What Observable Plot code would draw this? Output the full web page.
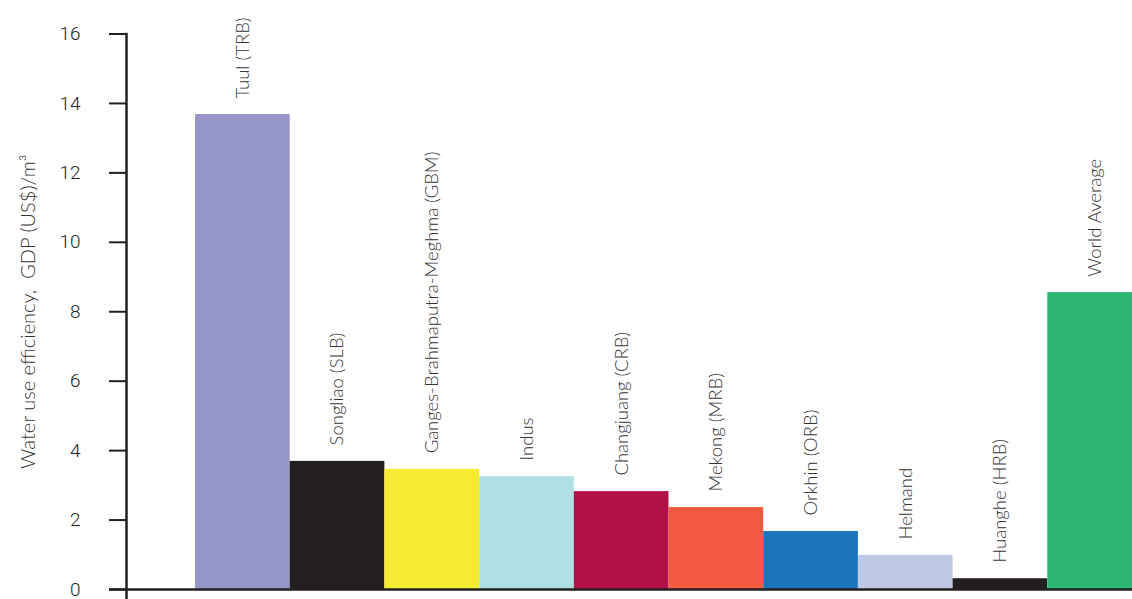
<!DOCTYPE html>
<html>
<head>
<meta charset="utf-8">
<script src="https://cdn.jsdelivr.net/npm/d3@7"></script>
<script src="https://cdn.jsdelivr.net/npm/@observablehq/plot@0.6"></script>
<style>
  html, body { margin: 0; padding: 0; background: #fff; overflow: hidden; }
  #chart svg { max-width: none !important; }
</style>
</head>
<body>
<div id="chart"></div>
<script>
const basins = ["Tuul (TRB)", "Songliao (SLB)", "Ganges-Brahmaputra-Meghma (GBM)", "Indus", "Changjuang (CRB)", "Mekong (MRB)", "Orkhin (ORB)", "Helmand", "Huanghe (HRB)", "World Average"];
const efficiency = [13.68, 3.69, 3.46, 3.25, 2.82, 2.36, 1.67, 0.98, 0.31, 8.55];
const colors = ["#9796c9", "#231f20", "#f7eb31", "#b0e0e4", "#b21048", "#f15a40", "#1c75bc", "#bfc8e6", "#231f20", "#2cb673"];
const yTicks = [0, 2, 4, 6, 8, 10, 12, 14, 16];

const data = basins.map((b, i) => ({basin: b, value: efficiency[i], color: colors[i]}));

const plot = Plot.plot({
  width: 1142,
  height: 599,
  marginLeft: 126,
  marginRight: 0,
  marginTop: 33.5,
  marginBottom: 10,
  style: {background: "#fff", color: "#231f20", maxWidth: "none"},
  x: {domain: basins, range: [195, 1142], padding: 0, round: false, axis: null},
  y: {domain: [0, 16], ticks: yTicks},
  marks: [
    Plot.barY(data, {x: "basin", y: "value", fill: "color"}),
    Plot.text(data, {
      x: "basin", y: "value", text: "basin", rotate: -90,
      textAnchor: "start", lineAnchor: "middle", dy: -16,
      fontFamily: "Lato", fontWeight: 300, fontSize: 18.5, fill: "#333"
    }),
    Plot.axisY({
      ticks: yTicks, tickSize: 17, tickPadding: 29,
      fontFamily: "Roboto", fontWeight: 300,
      fontSize: 19, stroke: "#231f20", strokeWidth: 2, fill: "#231f20",
      label: "Water use efficiency,  GDP (US$)/m³",
      labelAnchor: "center", labelArrow: "none", labelOffset: 106
    }),
    Plot.frame({anchor: "left", stroke: "#231f20", strokeWidth: 2.5, insetBottom: -10}),
    Plot.ruleY([0], {stroke: "#231f20", strokeWidth: 2.5, insetLeft: -17})
  ]
});

plot.style.maxWidth = "none";
document.getElementById("chart").appendChild(plot);

// lighter, larger axis title
d3.select(plot).selectAll("g[aria-label='y-axis label'] text")
  .attr("font-family", "Lato").attr("font-weight", 300).attr("font-size", 20).attr("fill", "#333");
</script>
</body>
</html>
